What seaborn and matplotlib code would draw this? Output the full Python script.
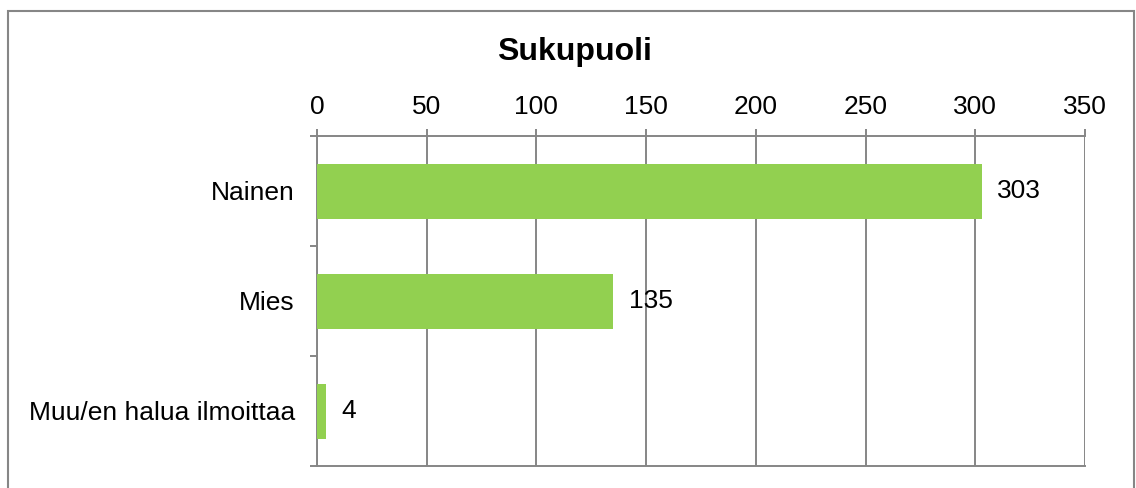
import matplotlib
matplotlib.use("Agg")
import matplotlib.pyplot as plt
import seaborn as sns
import numpy as np
from matplotlib.patches import Rectangle

# data
categories = ["Nainen", "Mies", "Muu/en halua ilmoittaa"]
counts = [303, 135, 4]
x_ticks = [0, 50, 100, 150, 200, 250, 300, 350]
title = "Sukupuoli"

sns.set_style("white")
plt.rcParams["font.family"] = ["Liberation Sans", "DejaVu Sans"]

grid_col = "#868686"
bar_col = "#92D050"

fig = plt.figure(figsize=(11.36, 4.88), dpi=100)
ax = fig.add_axes([317 / 1136, 1 - 466 / 488, (1085 - 317) / 1136, (466 - 136) / 488])

sns.barplot(x=counts, y=categories, orient="h", color=bar_col, saturation=1,
            width=0.5, linewidth=0, ax=ax, zorder=3)

ax.set_xlim(0, 350)
ax.set_ylim(2.5, -0.5)
ax.set_xticks(x_ticks)
ax.xaxis.tick_top()
ax.tick_params(axis="x", which="major", length=5, width=1.4, color=grid_col,
               labelsize=19, pad=7, labelcolor="black")
ax.grid(axis="x", color=grid_col, linewidth=1.4, zorder=0)
ax.set_axisbelow(True)

# category boundary ticks on the y axis
ax.set_yticks(np.arange(-0.5, 3, 1), minor=True)
ax.tick_params(axis="y", which="minor", length=5, width=1.4, color=grid_col, left=True)
ax.tick_params(axis="y", which="major", length=0, labelsize=19, pad=16, labelcolor="black")

for s in ax.spines.values():
    s.set_color(grid_col)
    s.set_linewidth(1.4)
ax.spines["right"].set_visible(False)
ax.set_xlabel("")
ax.set_ylabel("")

for c in ax.containers:
    ax.bar_label(c, labels=[str(v) for v in counts], padding=11, fontsize=19,
                 color="black")

fig.text(574 / 1136, 1 - 52 / 488, title, ha="center", va="center",
         fontsize=23, fontweight="bold", color="black")

# outer chart border
fig.patches.append(Rectangle((8 / 1136, -0.05), (1134 - 8) / 1136, 1.05 - 11 / 488,
                             transform=fig.transFigure, fill=False,
                             edgecolor=grid_col, linewidth=1.5))

fig.savefig("out.png", dpi=100)
